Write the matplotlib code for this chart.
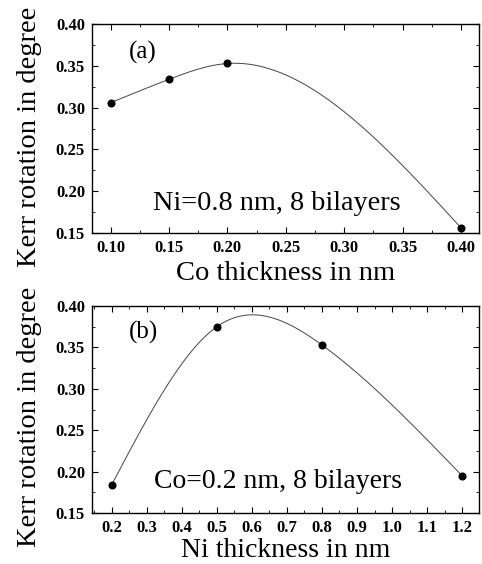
import numpy as np
import matplotlib
matplotlib.use("Agg")
import matplotlib.pyplot as plt
from matplotlib.ticker import MultipleLocator

plt.rcParams['font.family'] = ['Liberation Serif', 'DejaVu Serif']

# panel (a): Co thickness series
co_thick = [0.10, 0.15, 0.20, 0.40]
kerr_a = [0.306, 0.334, 0.353, 0.156]

# panel (b): Ni thickness series
ni_thick = [0.2, 0.5, 0.8, 1.2]
kerr_b = [0.184, 0.375, 0.353, 0.195]

xticks_a = [0.10, 0.15, 0.20, 0.25, 0.30, 0.35, 0.40]
xticks_b = [0.2, 0.3, 0.4, 0.5, 0.6, 0.7, 0.8, 0.9, 1.0, 1.1, 1.2]
yticks = [0.15, 0.20, 0.25, 0.30, 0.35, 0.40]


def natural_spline(xs, ys, n=400):
    # natural cubic spline through the measured points
    xs = np.asarray(xs, float)
    ys = np.asarray(ys, float)
    k = len(xs)
    h = np.diff(xs)
    A = np.zeros((k, k))
    r = np.zeros(k)
    A[0, 0] = A[-1, -1] = 1
    for i in range(1, k - 1):
        A[i, i - 1] = h[i - 1]
        A[i, i] = 2 * (h[i - 1] + h[i])
        A[i, i + 1] = h[i]
        r[i] = 6 * ((ys[i + 1] - ys[i]) / h[i] - (ys[i] - ys[i - 1]) / h[i - 1])
    M = np.linalg.solve(A, r)
    xf = np.linspace(xs[0], xs[-1], n)
    idx = np.clip(np.searchsorted(xs, xf) - 1, 0, k - 2)
    x0, x1 = xs[idx], xs[idx + 1]
    hh = x1 - x0
    yf = (M[idx] * (x1 - xf) ** 3 / (6 * hh) + M[idx + 1] * (xf - x0) ** 3 / (6 * hh)
          + (ys[idx] / hh - M[idx] * hh / 6) * (x1 - xf)
          + (ys[idx + 1] / hh - M[idx + 1] * hh / 6) * (xf - x0))
    return xf, yf


fig = plt.figure(figsize=(4.82, 5.64), dpi=100)
ax_a = fig.add_axes([0.191, 0.587, 0.803, 0.370])
ax_b = fig.add_axes([0.191, 0.0904, 0.803, 0.367])


def style(ax, xt, fmt, xlim, xminor, ylab_y):
    ax.set_xlim(*xlim)
    ax.set_ylim(0.15, 0.40)
    ax.set_xticks(xt)
    ax.set_xticklabels([fmt.format(v) for v in xt], fontsize=12, fontweight='bold')
    ax.set_yticks(yticks)
    ax.set_yticklabels(["{:.2f}".format(v) for v in yticks], fontsize=12, fontweight='bold')
    ax.yaxis.set_minor_locator(MultipleLocator(0.025))
    ax.xaxis.set_minor_locator(MultipleLocator(xminor))
    ax.tick_params(which='both', direction='in', top=True, right=True, pad=5)
    ax.tick_params(which='major', length=4, width=0.8)
    ax.tick_params(which='minor', length=2, width=0.6)
    for s in ax.spines.values():
        s.set_linewidth(1.0)
    ax.set_ylabel("Kerr rotation in degree", fontsize=20.5)
    ax.yaxis.set_label_coords(-0.129, ylab_y)


xf, yf = natural_spline(co_thick, kerr_a)
ax_a.plot(xf, yf, color='#444444', lw=0.7)
ax_a.plot(co_thick, kerr_a, 'o', color='black', ms=4.8)
style(ax_a, xticks_a, "{:.2f}", (0.0842, 0.4154), 0.025, 0.459)
ax_a.set_xlabel("Co thickness in nm", fontsize=20.5, labelpad=3.5)
ax_a.text(0.128, 0.3665, "(a)", fontsize=18, ha='center', va='center')
ax_a.text(0.2425, 0.185, "Ni=0.8 nm, 8 bilayers", fontsize=20.3, ha='center', va='center')

xf, yf = natural_spline(ni_thick, kerr_b)
ax_b.plot(xf, yf, color='#444444', lw=0.7)
ax_b.plot(ni_thick, kerr_b, 'o', color='black', ms=4.8)
style(ax_b, xticks_b, "{:.1f}", (0.144, 1.2485), 0.05, 0.464)
ax_b.set_xlabel("Ni thickness in nm", fontsize=20, labelpad=1.5)
ax_b.text(0.29, 0.3686, "(b)", fontsize=18, ha='center', va='center')
ax_b.text(0.675, 0.188, "Co=0.2 nm, 8 bilayers", fontsize=20, ha='center', va='center')

fig.savefig("out.png", dpi=100)
